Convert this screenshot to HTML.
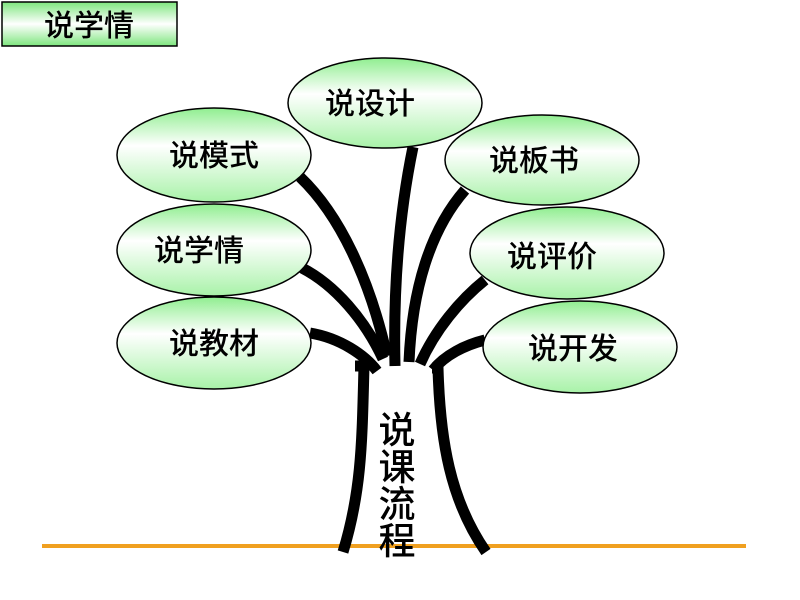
<!DOCTYPE html>
<html><head><meta charset="utf-8"><style>
html,body{margin:0;padding:0;background:#fff;width:800px;height:600px;overflow:hidden}
text{font-family:"Liberation Sans","Noto Sans CJK SC",sans-serif;fill:#000;font-weight:500}
</style></head><body>
<svg width="800" height="600" viewBox="0 0 800 600" xmlns="http://www.w3.org/2000/svg">
<defs>
<linearGradient id="g" x1="0" y1="0" x2="0" y2="1">
<stop offset="0" stop-color="#90ee90"/>
<stop offset="0.4" stop-color="#ffffff"/>
<stop offset="1" stop-color="#a8f2a8"/>
</linearGradient>
<linearGradient id="gb" x1="0" y1="0" x2="0" y2="1">
<stop offset="0" stop-color="#7ee67e"/>
<stop offset="0.5" stop-color="#ffffff"/>
<stop offset="1" stop-color="#7ee67e"/>
</linearGradient>
</defs>
<rect x="2" y="2" width="175" height="44" fill="url(#gb)" stroke="#000" stroke-width="1.5"/>
<text x="89" y="36" font-size="30" text-anchor="middle">说学情</text>
<line x1="42" y1="546" x2="746" y2="546" stroke="#f0a020" stroke-width="4"/>
<g fill="none" stroke="#000" stroke-width="11">
<path d="M300,177 C340,215 370,280 387,356"/>
<path d="M302,268 C335,285 365,320 383,359"/>
<path d="M310,333 C340,338 365,355 377,371"/>
<path d="M413,147 C400,210 393,280 395,366"/>
<path d="M465,190 C430,230 412,290 409,362"/>
<path d="M485,280 C460,300 435,330 420,364"/>
<path d="M485,340 C465,345 445,355 433,370"/>
<path d="M355,366 L364,366 C362,440 362,490 343,552"/>
<path d="M432,368 L438,368 C440,440 450,500 486,552"/>
</g>
<g stroke="#000" stroke-width="1.5" fill="url(#g)">
<ellipse cx="385" cy="103" rx="97" ry="45"/>
<ellipse cx="214" cy="155" rx="97" ry="47"/>
<ellipse cx="542" cy="160" rx="97" ry="45"/>
<ellipse cx="214" cy="250" rx="97" ry="46"/>
<ellipse cx="567" cy="253" rx="97" ry="46"/>
<ellipse cx="214" cy="343" rx="97" ry="46"/>
<ellipse cx="580" cy="347" rx="97" ry="46"/>
</g>
<g font-size="30" text-anchor="middle">
<text x="370" y="114">说设计</text>
<text x="214" y="166">说模式</text>
<text x="534" y="171">说板书</text>
<text x="199" y="261">说学情</text>
<text x="552" y="267">说评价</text>
<text x="214" y="354">说教材</text>
<text x="573" y="359">说开发</text>
</g>
<g font-size="37" text-anchor="middle" font-weight="bold">
<text x="397" y="443">说</text>
<text x="397" y="480">课</text>
<text x="397" y="517">流</text>
<text x="397" y="554">程</text>
</g>
</svg>
</body></html>
